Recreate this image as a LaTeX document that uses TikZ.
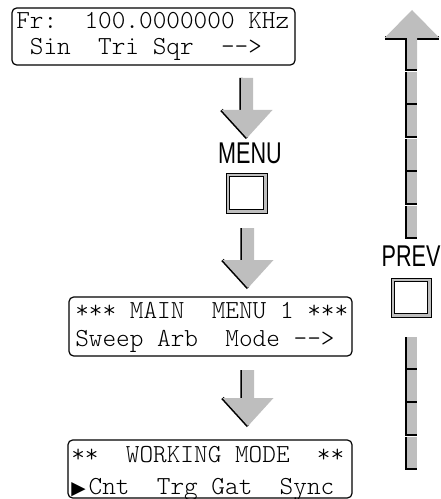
\documentclass[tikz,border=0pt]{standalone}
\usepackage{fontspec}
\usepackage{tikz}
\newfontfamily\keyfont[FakeStretch=0.72]{Liberation Sans}
\newfontfamily\symfont{DejaVu Sans}
\definecolor{ink}{HTML}{000000}
\definecolor{keygray}{HTML}{BEBEBE}
\tikzset{
  lcdframe/.style={draw=ink,line width=0.9pt,rounded corners=3.5pt},
  lcdrow/.style={anchor=base west,inner sep=0pt,text=ink,font=\ttfamily\fontseries{l}\fontsize{19.5}{20}\selectfont},
  keylabel/.style={inner sep=0pt,text=ink,font=\keyfont\fontsize{22.5}{24}\selectfont},
  keyshade/.style={draw=ink,line width=2.4pt,line cap=butt},
  keyframe/.style={draw=ink,fill=keygray,line width=0.7pt},
  keyface/.style={draw=ink,fill=white,line width=0.9pt}
}
% down arrow: x of axis, top of shaft, head base
\newcommand{\downkey}[3]{%
  \draw[keyshade] (#1-6,#2) -- (#1-6,#3) (#1-25.5,#3) -- (#1,#3+28);
  \fill[keygray] (#1-6,#2) -- (#1-6,#3) -- (#1-25.5,#3) -- (#1,#3+28) -- (#1+25.5,#3) -- (#1+6,#3) -- (#1+6,#2) -- cycle;}
\begin{document}
\begin{tikzpicture}[x=0.75pt,y=-0.75pt]
\useasboundingbox (0,0) rectangle (440,499);
% displays
\draw[lcdframe] (12,8) rectangle (295,65);
\node[lcdrow] (freqrow) at (16,29) {Fr:~~100.0000000~KHz};
\node[lcdrow] (waverow) at (16,55) {~Sin~~Tri~Sqr~~-\kern0pt-\kern0pt>};
\draw[lcdframe] (69,297) rectangle (352,356);
\node[lcdrow] (mainrow) at (75,318) {***~MAIN~~MENU~1~***};
\node[lcdrow] (optrow) at (75,346) {Sweep~Arb~~Mode~-\kern0pt-\kern0pt>};
\draw[lcdframe] (68,440) rectangle (352,498);
\node[lcdrow] (workrow) at (71,462) {**~~WORKING~MODE~~**};
\node[lcdrow] (moderow) at (71,494) {\makebox[13pt][l]{\symfont\fontsize{14}{15}\selectfont ▶}Cnt~~Trg~Gat~~Sync};
% keys
\downkey{247}{78}{110}
\node[keylabel] (menulabel) at (250,153) {MENU};
\draw[keyframe] (226,173) rectangle (267,213); \draw[keyface] (229.5,176.5) rectangle (263.5,209.5);
\downkey{248}{228}{260}
\downkey{248}{370}{398}
% up arrow
\draw[keyshade] (385,38) -- (407,38) -- (407,69) -- (417,69) (417,38) -- (439,38);
\fill[keygray] (412,10) -- (439.5,38) -- (417,38) -- (417,69) -- (407,69) -- (407,38) -- (384.5,38) -- cycle;
\foreach \a in {72,105,139,172,206,337,370,403,437} {\draw[keyshade] (407,\a) -- (407,\a+31) -- (417,\a+31); \fill[keygray] (407,\a) rectangle (417,\a+31);}
\node[keylabel] (prevlabel) at (411,256) {PREV};
\draw[keyframe] (391,278) rectangle (431,317); \draw[keyface] (394.5,281.5) rectangle (427.5,313.5);
\end{tikzpicture}
\end{document}
